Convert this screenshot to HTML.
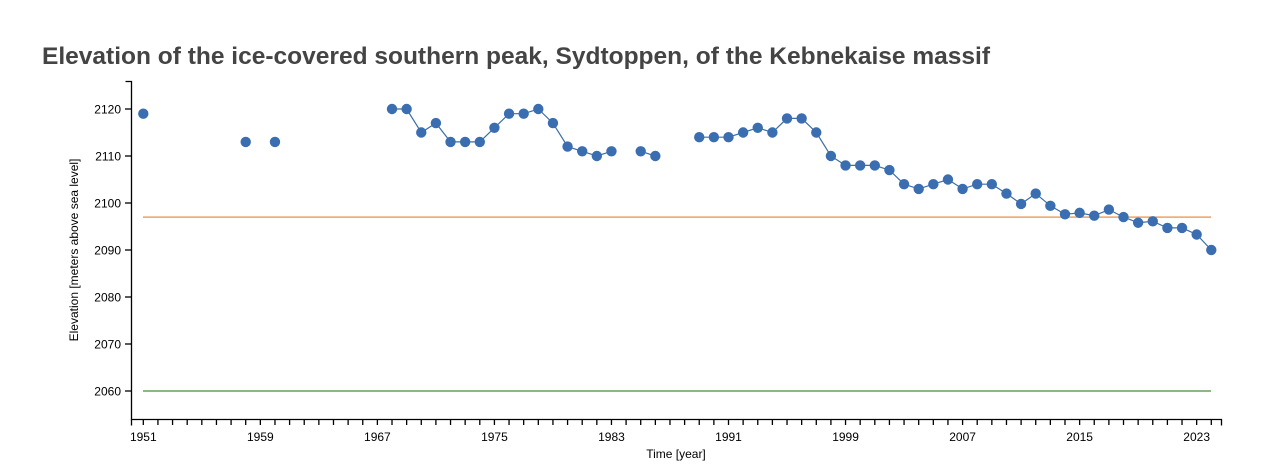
<!DOCTYPE html>
<html><head><meta charset="utf-8"><style>body{margin:0;background:#fff}svg{display:block}</style></head>
<body>
<svg width="1280" height="465" xmlns="http://www.w3.org/2000/svg" font-family="Liberation Sans, sans-serif">
<text x="42" y="64" font-size="24" font-weight="bold" fill="#444" textLength="948" lengthAdjust="spacingAndGlyphs">Elevation of the ice-covered southern peak, Sydtoppen, of the Kebnekaise massif</text>
<g id="plot"></g>
</svg>
<script>
const g=document.getElementById('plot');const NS='http://www.w3.org/2000/svg';
function el(t,a,txt){const e=document.createElementNS(NS,t);for(const k in a)e.setAttribute(k,a[k]);if(txt!==undefined)e.textContent=txt;g.appendChild(e);return e;}
const X=y=>143.3+(y-1951)*14.63, Y=v=>109+(2120-v)*4.7;
// axes
el('path',{d:'M125.5,81.5H131.5V419.5H1221.5V425.5',fill:'none',stroke:'#000','stroke-width':1.3});
el('path',{d:'M131.5,419.5V425.5',stroke:'#000','stroke-width':1.3});
for(let v=2060;v<=2120;v+=10){const y=Y(v);el('line',{x1:125,x2:131,y1:y,y2:y,stroke:'#000','stroke-width':1.3});el('text',{x:121,y:y+4.5,'font-size':12,'text-anchor':'end'},v);}
for(let yr=1951;yr<=2024;yr++){const x=X(yr);el('line',{x1:x,x2:x,y1:419,y2:425,stroke:'#000','stroke-width':1.3});if((yr-1951)%8==0)el('text',{x:x,y:441,'font-size':12,'text-anchor':'middle'},yr);}
el('text',{x:676,y:458,'font-size':12,'text-anchor':'middle'},'Time [year]');
el('text',{transform:'translate(78,250) rotate(-90)','font-size':12,'text-anchor':'middle'},'Elevation [meters above sea level]');
el('line',{x1:143,x2:1211,y1:Y(2097),y2:Y(2097),stroke:'#f0a060','stroke-width':1.5});
el('line',{x1:143,x2:1211,y1:391,y2:391,stroke:'#6a9f5e','stroke-width':1.5});
const d=[[1951,2119],null,[1958,2113],null,[1960,2113],null,[1968,2120],[1969,2120],[1970,2115],[1971,2117],[1972,2113],[1973,2113],[1974,2113],[1975,2116],[1976,2119],[1977,2119],[1978,2120],[1979,2117],[1980,2112],[1981,2111],[1982,2110],[1983,2111],null,[1985,2111],[1986,2110],null,[1989,2114],[1990,2114],[1991,2114],[1992,2115],[1993,2116],[1994,2115],[1995,2118],[1996,2118],[1997,2115],[1998,2110],[1999,2108],[2000,2108],[2001,2108],[2002,2107],[2003,2104],[2004,2103],[2005,2104],[2006,2105],[2007,2103],[2008,2104],[2009,2104],[2010,2102],[2011,2099.8],[2012,2102],[2013,2099.4],[2014,2097.6],[2015,2097.9],[2016,2097.3],[2017,2098.6],[2018,2097],[2019,2095.8],[2020,2096.1],[2021,2094.7],[2022,2094.7],[2023,2093.3],[2024,2090]];
let p='',pen=false;for(const q of d){if(!q){pen=false;continue;}p+=(pen?'L':'M')+X(q[0]).toFixed(1)+','+Y(q[1]).toFixed(1);pen=true;}
el('path',{d:p,fill:'none',stroke:'#3a6ea5','stroke-width':1.2});
for(const q of d)if(q)el('circle',{cx:X(q[0]),cy:Y(q[1]),r:5.2,fill:'#3a6eb0'});
</script>
</body></html>
